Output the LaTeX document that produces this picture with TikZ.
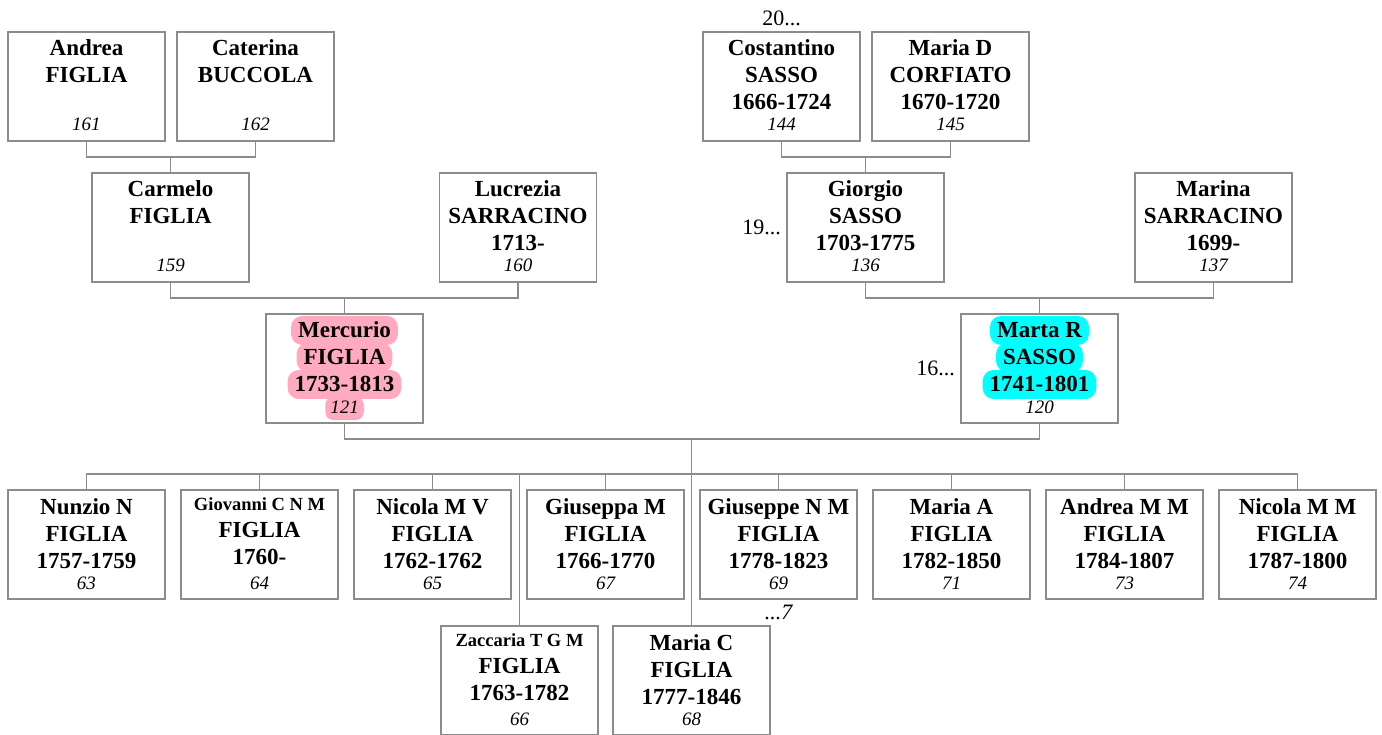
\documentclass[tikz,border=0pt]{standalone}
\usepackage{fontspec}
\setmainfont{Liberation Serif}
\usetikzlibrary{positioning}

\definecolor{boxgray}{RGB}{140,140,140}
\definecolor{hlpink}{RGB}{255,170,190}
\definecolor{hlcyan}{RGB}{0,255,255}

\tikzset{
	hlite/.style={
			fill=#1, draw=none, rounded corners=11pt, font=, text width=,
			inner xsep=7pt, inner ysep=0pt, outer sep=0pt, text height=22pt, text depth=7pt
		},
	hlnum/.style={
			rounded corners=8pt, inner xsep=5pt, text height=16pt, text depth=7pt
		},
}
\newcommand{\hlite}[3][]{\tikz[baseline=(hl.base)]\node[hlite=#2, #1](hl){#3};}
\newcommand{\idnum}[1]{{\mdseries\itshape\fontsize{19}{27}\selectfont #1}}
\newcommand{\smallname}[1]{{\fontsize{18.5}{27}\selectfont #1}}

\begin{document}
\begin{tikzpicture}[x=1pt, y=-1pt]

	\tikzset{
		person/.style={
				rectangle, draw=boxgray, fill=white, line width=1.3pt, anchor=north,
				inner sep=0pt, outer sep=0pt, text width=157pt, align=flush center,
				text height=24pt, text depth=85pt,
				font=\fontsize{23}{27}\selectfont\bfseries,
				execute at begin node={\lineskiplimit=-100pt\relax}
			},
		shortline/.style={
				text height=20pt, text depth=89pt
			},
		link/.style={
				draw=boxgray, line width=1.3pt
			},
		gen/.style={
				inner sep=0pt, font=\fontsize{22}{22}\selectfont
			},
	}
	\useasboundingbox (0,0) rectangle (1382,735);
	\clip (0,0) rectangle (1382,735);

	% great-grandparents
	\node[person](andrea) at (86.5,32) {Andrea\\FIGLIA\\\mbox{}\\[-6pt]\idnum{161}};
	\node[person, right=12pt of andrea](caterina) {Caterina\\BUCCOLA\\\mbox{}\\[-6pt]\idnum{162}};
	\node[person](costantino) at (781.5,32) {Costantino\\SASSO\\1666-1724\\[-6pt]\idnum{144}};
	\node[person, right=12pt of costantino](mariad) {Maria D\\CORFIATO\\1670-1720\\[-6pt]\idnum{145}};

	% grandparents
	\node[person](carmelo) at (170.5,173) {Carmelo\\FIGLIA\\\mbox{}\\[-6pt]\idnum{159}};
	\node[person](lucrezia) at (518,173) {Lucrezia\\SARRACINO\\1713-\\[-6pt]\idnum{160}};
	\node[person](giorgio) at (865.5,173) {Giorgio\\SASSO\\1703-1775\\[-6pt]\idnum{136}};
	\node[person](marina) at (1213.5,173) {Marina\\SARRACINO\\1699-\\[-6pt]\idnum{137}};

	% parents
	\node[person](mercurio) at (344.5,314) {\hlite{hlpink}{Mercurio}\\\hlite{hlpink}{FIGLIA}\\\hlite{hlpink}{1733-1813}\\[-6pt]\hlite[hlnum]{hlpink}{\idnum{121}}};
	\node[person](marta) at (1039.5,314) {\hlite{hlcyan}{Marta R}\\\hlite{hlcyan}{SASSO}\\\hlite{hlcyan}{1741-1801}\\[-6pt]\idnum{120}};

	% children
	\node[person](nunzio) at (86.5,490) {Nunzio N\\FIGLIA\\1757-1759\\[-6pt]\idnum{63}};
	\node[person, shortline, right=16pt of nunzio](giovanni) {\smallname{Giovanni C N M}\\FIGLIA\\1760-\\[-2pt]\idnum{64}};
	\node[person, right=16pt of giovanni](nicolamv) {Nicola M V\\FIGLIA\\1762-1762\\[-6pt]\idnum{65}};
	\node[person, right=16pt of nicolamv](giuseppam) {Giuseppa M\\FIGLIA\\1766-1770\\[-6pt]\idnum{67}};
	\node[person, right=16pt of giuseppam](giuseppenm) {Giuseppe N M\\FIGLIA\\1778-1823\\[-6pt]\idnum{69}};
	\node[person, right=16pt of giuseppenm](mariaa) {Maria A\\FIGLIA\\1782-1850\\[-6pt]\idnum{71}};
	\node[person, right=16pt of mariaa](andreamm) {Andrea M M\\FIGLIA\\1784-1807\\[-6pt]\idnum{73}};
	\node[person, right=16pt of andreamm](nicolamm) {Nicola M M\\FIGLIA\\1787-1800\\[-6pt]\idnum{74}};

	\node[person, shortline](zaccaria) at (519.5,626) {\smallname{Zaccaria T G M}\\FIGLIA\\1763-1782\\[-2pt]\idnum{66}};
	\node[person](mariac) at (691.5,626) {Maria C\\FIGLIA\\1777-1846\\[-6pt]\idnum{68}};

	% generation marks
	\node[gen, above=6pt of costantino](gen20){20...};
	\node[gen, left=6pt of giorgio](gen19){19...};
	\node[gen, left=6pt of marta](gen16){16...};
	\node[gen, below=6pt of giuseppenm, font=\fontsize{22}{22}\selectfont\itshape](gen7){...7};

	% links
	\draw[link] (andrea.south) -- ++(0,16) -| (caterina.south);
	\draw[link] (carmelo.north) -- ++(0,-16);
	\draw[link] (costantino.south) -- ++(0,16) -| (mariad.south);
	\draw[link] (giorgio.north) -- ++(0,-16);

	\draw[link] (carmelo.south) -- ++(0,16) -| (lucrezia.south);
	\draw[link] (mercurio.north) -- ++(0,-16);
	\draw[link] (giorgio.south) -- ++(0,16) -| (marina.south);
	\draw[link] (marta.north) -- ++(0,-16);

	\coordinate[below=16pt of mercurio.south](fam);
	\coordinate[above=16pt of nunzio.north](bar);
	\draw[link] (mercurio.south) -- (fam) -| (marta.south);
	\draw[link] (mariac.north) -- (mariac.north |- fam);
	\draw[link] (nunzio.north) -- (bar) -| (nicolamm.north);
	\draw[link] (giovanni.north) -- ++(0,-16);
	\draw[link] (nicolamv.north) -- ++(0,-16);
	\draw[link] (giuseppam.north) -- ++(0,-16);
	\draw[link] (giuseppenm.north) -- ++(0,-16);
	\draw[link] (mariaa.north) -- ++(0,-16);
	\draw[link] (andreamm.north) -- ++(0,-16);
	\draw[link] (zaccaria.north) -- (zaccaria.north |- bar);

\end{tikzpicture}
\end{document}
